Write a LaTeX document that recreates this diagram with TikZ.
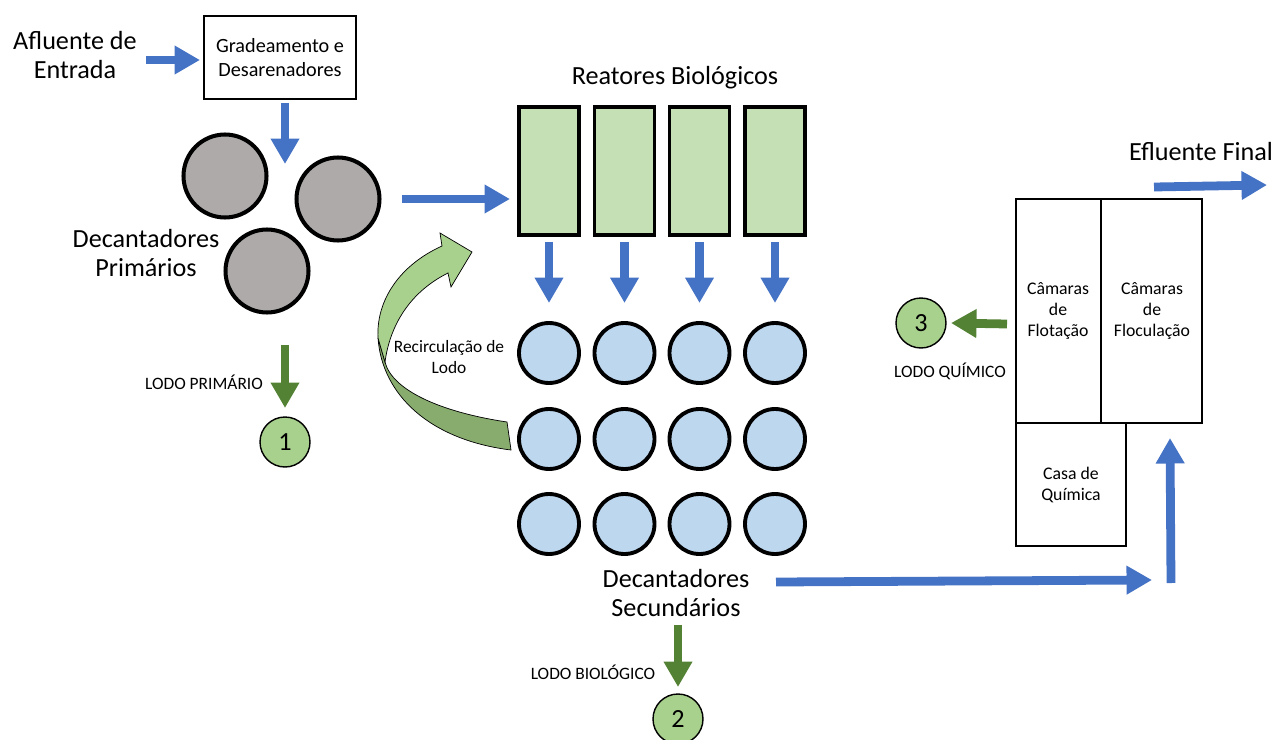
\documentclass[tikz,border=0pt]{standalone}
\usepackage{fontspec}
\setmainfont{Carlito}
\usetikzlibrary{arrows.meta}
\definecolor{flowblue}{HTML}{4472C4}
\definecolor{sludge}{HTML}{548235}
\definecolor{reactor}{HTML}{C5E0B4}
\definecolor{settler}{HTML}{BDD7EE}
\definecolor{primgray}{HTML}{AEAAAA}
\definecolor{lightg}{HTML}{A9D18E}
\definecolor{darkg}{HTML}{88AB6E}
\begin{document}
\begin{tikzpicture}[x=0.02cm,y=-0.02cm,
  flow/.style={line width=5pt, draw=flowblue, -{Triangle[width=15.5pt,length=14.5pt]}},
  sludgeflow/.style={line width=5pt, draw=sludge, -{Triangle[width=15.5pt,length=14.5pt]}},
  big/.style={font=\fontsize{14.9}{17}\selectfont, align=center, inner sep=0pt},
  mid/.style={font=\fontsize{11.5}{13.6}\selectfont, align=center, inner sep=0pt},
  small/.style={font=\fontsize{9.9}{11.6}\selectfont, align=center, inner sep=0pt},
  chamber/.style={font=\fontsize{10.1}{12}\selectfont, align=center, inner sep=0pt},
  pcirc/.style={circle, draw=black, line width=2.3pt, fill=primgray, minimum size=1.66cm, inner sep=0pt},
  scirc/.style={circle, draw=black, line width=2.2pt, fill=settler, minimum size=1.2cm, inner sep=0pt},
  rbox/.style={rectangle, draw=black, line width=2.2pt, fill=reactor, minimum width=1.2cm, minimum height=2.56cm, inner sep=0pt},
  sludgecirc/.style={circle, draw=black, line width=0.8pt, fill=lightg, minimum size=1.0cm, inner sep=0pt, font=\fontsize{14.9}{17}\selectfont},
  plainbox/.style={rectangle, draw=black, line width=0.8pt, inner sep=0pt}
]
\useasboundingbox (0,0) rectangle (1278,740);

% Inlet
\node[big] (afl) at (75,55) {Afluente de\\Entrada};
\node[plainbox, minimum width=3.04cm, minimum height=1.66cm, mid] (grad) at (280,57.5) {Gradeamento e\\Desarenadores};
\coordinate (a1s) at (146,60); \coordinate (a1e) at (200,60);
\draw[flow] (a1s) -- (a1e);
\coordinate (a2s) at (285,103); \coordinate (a2e) at (285,164);
\draw[flow] (a2s) -- (a2e);

% Primary settlers
\node[pcirc] (p1) at (225,176) {};
\node[pcirc] (p2) at (338,199) {};
\node[pcirc] (p3) at (267,271) {};
\node[big] (dprim) at (146,253) {Decantadores\\Primários};
\coordinate (a3s) at (402,199); \coordinate (a3e) at (510,199);
\draw[flow] (a3s) -- (a3e);

% Primary sludge
\coordinate (s1s) at (285,345); \coordinate (s1e) at (285,408);
\draw[sludgeflow] (s1s) -- (s1e);
\node[small] (lp) at (204,382) {LODO PRIMÁRIO};
\node[sludgecirc] (c1) at (285,442) {1};

% Reactors
\node[big] (rbio) at (675,78) {Reatores Biológicos};
\foreach \x/\n in {549/1,624.5/2,699.5/3,775/4}{
  \node[rbox] (r\n) at (\x,171) {};
  \coordinate (d\n s) at (\x,242); \coordinate (d\n e) at (\x,303);
  \draw[flow] (d\n s) -- (d\n e);
  \node[scirc] (sa\n) at (\x,353) {};
  \node[scirc] (sb\n) at (\x,439) {};
  \node[scirc] (sc\n) at (\x,524) {};
}

% Recirculation arrow
\draw[black, line width=0.4pt, fill=darkg]
  (378,338) .. controls (382,395) and (430,440) .. (511,450)
  -- (507,422)
  .. controls (440,412) and (392,390) .. (385,362)
  -- cycle;
\draw[black, line width=0.4pt, fill=lightg]
  (378,338) .. controls (376,300) and (400,265) .. (442,246)
  -- (440,233) -- (472,252) -- (451,287) -- (448,273)
  .. controls (410,292) and (390,325) .. (385,362)
  -- cycle;
\node[small] (recirc) at (449,357) {Recirculação de\\Lodo};

% Secondary settlers
\node[big] (dsec) at (676,593) {Decantadores\\Secundários};
\coordinate (s2s) at (678,625); \coordinate (s2e) at (678,687);
\draw[sludgeflow] (s2s) -- (s2e);
\node[small] (lb) at (593,672) {LODO BIOLÓGICO};
\node[sludgecirc] (c2) at (678,719) {2};

\coordinate (a4s) at (776,582); \coordinate (a4e) at (1152,580);
\draw[flow] (a4s) -- (a4e);
\coordinate (a5s) at (1171,583); \coordinate (a5e) at (1170,438);
\draw[flow] (a5s) -- (a5e);

% Tertiary treatment
\node[plainbox, minimum width=1.7cm, minimum height=4.48cm] (flot) at (1058.5,311) {};
\node[plainbox, minimum width=2.02cm, minimum height=4.48cm] (floc) at (1151.5,311) {};
\node[plainbox, minimum width=2.2cm, minimum height=2.46cm] (casa) at (1071,484.5) {};
\node[chamber] at (1058,311) {Câmaras\\de\\Flotação};
\node[chamber] at (1152,311) {Câmaras\\de\\Floculação};
\node[chamber] at (1071,485) {Casa de\\Química};

\coordinate (s3s) at (1007,324); \coordinate (s3e) at (951,323);
\draw[sludgeflow] (s3s) -- (s3e);
\node[sludgecirc] (c3) at (921,323) {3};
\node[small] (lq) at (950,371) {LODO QUÍMICO};

\node[big] (efl) at (1201,152) {Efluente Final};
\coordinate (a6s) at (1154,187); \coordinate (a6e) at (1267,185);
\draw[flow] (a6s) -- (a6e);
\end{tikzpicture}
\end{document}
